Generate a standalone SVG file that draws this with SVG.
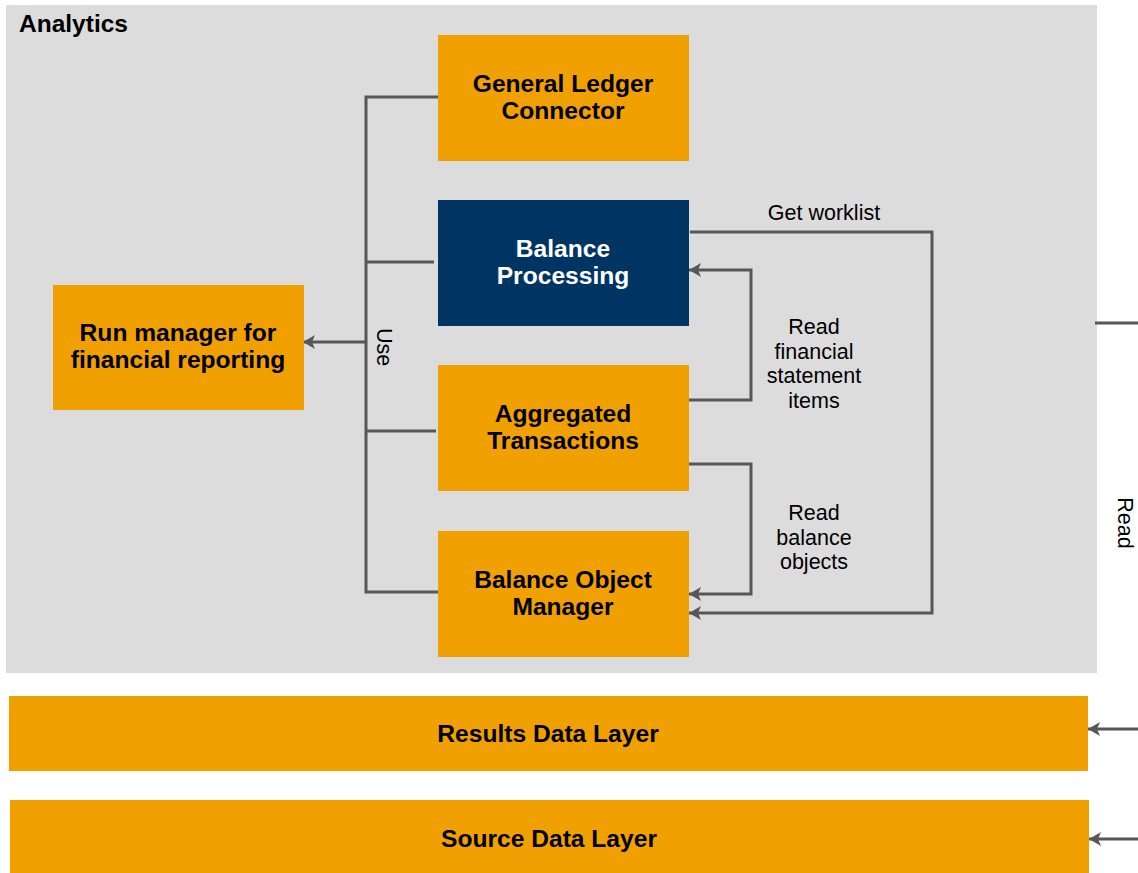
<svg xmlns="http://www.w3.org/2000/svg" width="1138" height="873" viewBox="0 0 1138 873">
<style>
.box{fill:#F0A000}
.navy{fill:#003462}
.bt{font-family:"Liberation Sans",Arial,sans-serif;font-weight:bold;font-size:24.6px;text-anchor:middle;fill:#000}
.wt{fill:#fff}
.lbl{font-family:"Liberation Sans",Arial,sans-serif;font-size:21.5px;text-anchor:middle;fill:#000}
.ln{fill:none;stroke:#575757;stroke-width:3}
</style>
<defs>
<marker id="ah" markerUnits="userSpaceOnUse" markerWidth="14" markerHeight="14" refX="12" refY="7" orient="auto">
<path d="M0,0 L12,7 L0,14 L3,7 Z" fill="#575757"/>
</marker>
</defs>
<rect width="1138" height="873" fill="#fff"/>
<g id="analytics">
<rect x="6" y="5" width="1091" height="668" fill="#DCDCDC"/>
<text x="19" y="32" font-family="Liberation Sans,Arial,sans-serif" font-weight="bold" font-size="24.5">Analytics</text>
</g>
<g id="connectors">
<path class="ln" d="M438,97 H366 V592 H438"/>
<path class="ln" d="M366,262 H434"/>
<path class="ln" d="M366,431 H436"/>
<path class="ln" d="M366,342 H303" marker-end="url(#ah)"/>
<path class="ln" d="M690,232 H932 V613 H689" marker-end="url(#ah)"/>
<path class="ln" d="M689,400 H751 V270 H689" marker-end="url(#ah)"/>
<path class="ln" d="M689,464 H751 V594 H689" marker-end="url(#ah)"/>
<path class="ln" d="M1095,323 H1138"/>
<path class="ln" d="M1138,729 H1088" marker-end="url(#ah)"/>
<path class="ln" d="M1138,839 H1089" marker-end="url(#ah)"/>
<text class="lbl" transform="translate(377,347) rotate(90)">Use</text>
<text class="lbl" x="824" y="220">Get worklist</text>
<text class="lbl" x="814" y="334">Read</text>
<text class="lbl" x="814" y="359">financial</text>
<text class="lbl" x="814" y="383">statement</text>
<text class="lbl" x="814" y="408">items</text>
<text class="lbl" x="814" y="520">Read</text>
<text class="lbl" x="814" y="545">balance</text>
<text class="lbl" x="814" y="569">objects</text>
<text class="lbl" transform="translate(1118,523) rotate(90)">Read</text>
</g>
<g id="gl-connector">
<rect class="box" x="438" y="35" width="251" height="126"/>
<text class="bt" x="563" y="92">General Ledger</text>
<text class="bt" x="563" y="119">Connector</text>
</g>
<g id="balance-processing">
<rect class="navy" x="438" y="200" width="251" height="126"/>
<text class="bt wt" x="563" y="257">Balance</text>
<text class="bt wt" x="563" y="284">Processing</text>
</g>
<g id="aggregated-transactions">
<rect class="box" x="438" y="365" width="251" height="126"/>
<text class="bt" x="563" y="422">Aggregated</text>
<text class="bt" x="563" y="449">Transactions</text>
</g>
<g id="balance-object-manager">
<rect class="box" x="438" y="531" width="251" height="126"/>
<text class="bt" x="563" y="588">Balance Object</text>
<text class="bt" x="563" y="615">Manager</text>
</g>
<g id="run-manager">
<rect class="box" x="53" y="285" width="251" height="125"/>
<text class="bt" x="178" y="341">Run manager for</text>
<text class="bt" x="178" y="368">financial reporting</text>
</g>
<g id="results-data-layer">
<rect class="box" x="9" y="696" width="1079" height="75"/>
<text class="bt" x="548" y="742">Results Data Layer</text>
</g>
<g id="source-data-layer">
<rect class="box" x="10" y="800" width="1079" height="73"/>
<text class="bt" x="549" y="847">Source Data Layer</text>
</g>
</svg>
